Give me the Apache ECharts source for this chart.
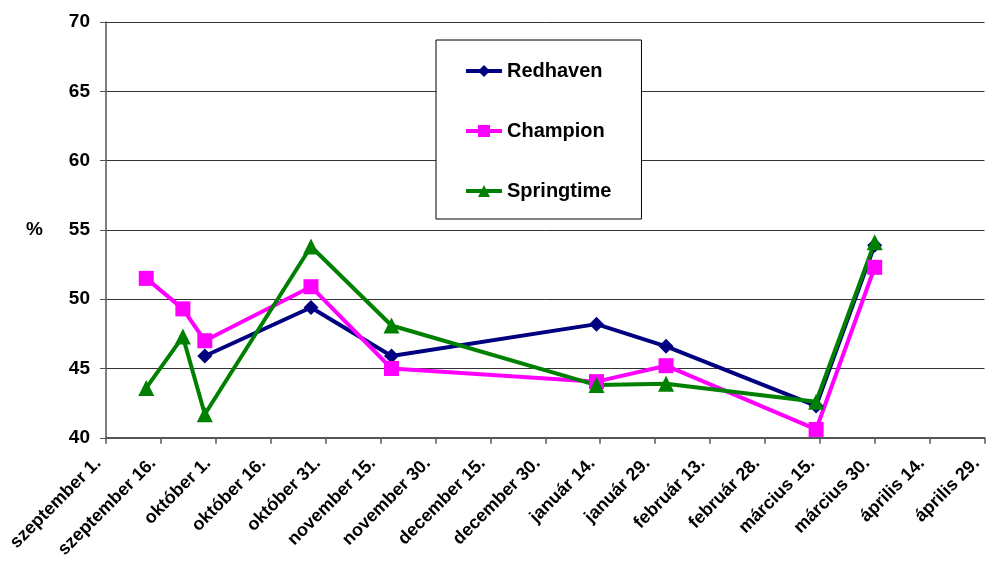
<!DOCTYPE html>
<html>
<head>
<meta charset="utf-8">
<script src="https://cdn.jsdelivr.net/npm/echarts@6/dist/echarts.min.js"></script>
<style>
html,body{margin:0;padding:0;background:#fff;}
#chart{width:988px;height:561px;}
</style>
</head>
<body>
<div id="chart"></div>
<script>
// Tick labels (every 15 days from szeptember 1.)
var tickLabels = ['szeptember 1.', 'szeptember 16.', 'október 1.', 'október 16.', 'október 31.', 'november 15.', 'november 30.', 'december 15.', 'december 30.', 'január 14.', 'január 29.', 'február 13.', 'február 28.', 'március 15.', 'március 30.', 'április 14.', 'április 29.'];

// Sampling days (days after szeptember 1.)
var redhavenDays = [27, 56, 78, 134, 153, 194, 210];
var redhavenValues = [45.9, 49.4, 45.9, 48.2, 46.6, 42.3, 53.9];

var championDays = [11, 21, 27, 56, 78, 134, 153, 194, 210];
var championValues = [51.5, 49.3, 47.0, 50.9, 45.0, 44.05, 45.2, 40.6, 52.3];

var springtimeDays = [11, 21, 27, 56, 78, 134, 153, 194, 210];
var springtimeValues = [43.6, 47.3, 41.7, 53.8, 48.1, 43.8, 43.9, 42.6, 54.1];

function pairs(d, v) { return d.map(function (x, i) { return [x, v[i]]; }); }

var FONT = '"Liberation Sans", Arial, sans-serif';
var chart = echarts.init(document.getElementById('chart'), null, {renderer: 'canvas'});
chart.setOption({
  animation: false,
  backgroundColor: '#ffffff',
  grid: {left: 106, right: 3.5, top: 22, bottom: 121, containLabel: false},
  legend: {
    orient: 'vertical',
    left: 436,
    top: 40,
    padding: [21, 30, 18, 28],
    itemGap: 40,
    itemWidth: 36,
    itemHeight: 15,
    borderColor: '#000',
    borderWidth: 1,
    backgroundColor: '#fff',
    lineStyle: {width: 4},
    textStyle: {fontFamily: FONT, fontWeight: 'bold', fontSize: 20, color: '#000'},
    data: ['Redhaven', 'Champion', 'Springtime']
  },
  xAxis: {
    type: 'value',
    min: 0,
    max: 240,
    interval: 15,
    axisLine: {show: true, lineStyle: {color: '#555', width: 2}},
    axisTick: {show: true, length: 6, lineStyle: {color: '#555', width: 1.5}},
    splitLine: {show: false},
    axisLabel: {
      rotate: 45,
      margin: 15,
      padding: [0, 11, 0, 0],
      fontFamily: FONT, fontWeight: 'bold', fontSize: 18, color: '#000',
      formatter: function (v) { return tickLabels[Math.round(v / 15)] || ''; }
    }
  },
  yAxis: {
    type: 'value',
    min: 40,
    max: 70,
    interval: 5,
    name: '%',
    nameLocation: 'middle',
    nameRotate: 0,
    nameGap: 63,
    nameTextStyle: {fontFamily: FONT, fontWeight: 'bold', fontSize: 19, color: '#000', padding: [14, 0, 0, 0]},
    axisLine: {show: true, lineStyle: {color: '#555', width: 1.5}},
    axisTick: {show: true, length: 6, lineStyle: {color: '#555', width: 1}},
    splitLine: {show: true, lineStyle: {color: '#333', width: 1}},
    axisLabel: {margin: 16, fontFamily: FONT, fontWeight: 'bold', fontSize: 19, color: '#000'}
  },
  series: [
    {
      name: 'Redhaven', type: 'line', data: pairs(redhavenDays, redhavenValues),
      symbol: 'diamond', symbolSize: 15,
      lineStyle: {color: '#000080', width: 4},
      itemStyle: {color: '#000080'}
    },
    {
      name: 'Champion', type: 'line', data: pairs(championDays, championValues),
      symbol: 'rect', symbolSize: 15,
      lineStyle: {color: '#ff00ff', width: 4},
      itemStyle: {color: '#ff00ff'}
    },
    {
      name: 'Springtime', type: 'line', data: pairs(springtimeDays, springtimeValues),
      symbol: 'triangle', symbolSize: 16,
      lineStyle: {color: '#008000', width: 4},
      itemStyle: {color: '#008000'}
    }
  ]
});
</script>
</body>
</html>
